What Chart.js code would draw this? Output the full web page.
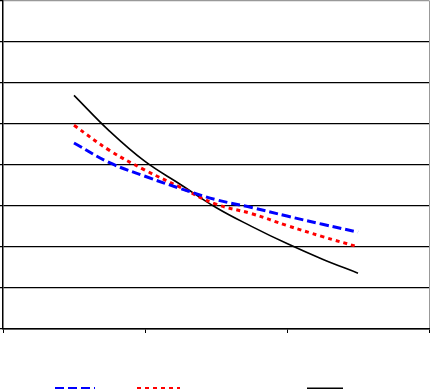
<!DOCTYPE html>
<html>
<head>
<meta charset="utf-8">
<script src="https://cdn.jsdelivr.net/npm/chart.js@4/dist/chart.umd.min.js"></script>
<style>
  html, body { margin: 0; padding: 0; background: #fff; overflow: hidden; }
  #wrap { width: 430px; height: 389px; }
</style>
</head>
<body>
<div id="wrap"><canvas id="lineChart"></canvas></div>
<script>
// x positions (linear axis 0..3, category centres at 0.5 / 1.5 / 2.5)
const xValues = [0.5, 0.75, 1.0, 1.25, 1.5, 1.75, 2.0, 2.25, 2.5];
// series values
const blueSeries  = [4.53, 4.05, 3.72, 3.42, 3.15, 2.96, 2.75, 2.55, 2.36];
const redSeries   = [4.96, 4.35, 3.87, 3.45, 3.04, 2.81, 2.52, 2.25, 2.00];
const blackSeries = [5.69, 4.82, 4.08, 3.52, 2.96, 2.50, 2.08, 1.70, 1.36];
// axis ranges
const yTicks = [0, 1, 2, 3, 4, 5, 6, 7, 8];
const xTicks = [0, 1, 2, 3];

function toPoints(vals) {
    return vals.map((v, i) => ({ x: xValues[i], y: v }));
}

// legend line samples along the bottom (only their tops show)
const legendPlugin = {
    id: 'bottomLegend',
    afterDraw(chart) {
        const ctx = chart.ctx;
        const items = [
            { x1: 55, x2: 95, color: '#0000ff', dash: [9, 4], width: 3 },
            { x1: 137, x2: 180, color: '#ff0000', dash: [4, 4], width: 3 },
            { x1: 307, x2: 343, color: '#000000', dash: [], width: 2 }
        ];
        ctx.save();
        items.forEach(it => {
            ctx.beginPath();
            ctx.strokeStyle = it.color;
            ctx.lineWidth = it.width;
            ctx.setLineDash(it.dash);
            ctx.moveTo(it.x1, 388.5);
            ctx.lineTo(it.x2, 388.5);
            ctx.stroke();
        });
        ctx.restore();
    }
};

const chartCtx = document.getElementById('lineChart').getContext('2d');
const lineChart = new Chart(chartCtx, {
    type: 'line',
    data: {
        datasets: [
            {
                label: 'Series 1',
                data: toPoints(blueSeries),
                borderColor: '#0000ff',
                borderWidth: 3,
                borderDash: [9, 4],
                pointRadius: 0,
                tension: 0.4,
                fill: false
            },
            {
                label: 'Series 2',
                data: toPoints(redSeries),
                borderColor: '#ff0000',
                borderWidth: 3,
                borderDash: [4, 4],
                pointRadius: 0,
                tension: 0.4,
                fill: false
            },
            {
                label: 'Series 3',
                data: toPoints(blackSeries),
                borderColor: '#000000',
                borderWidth: 1.6,
                pointRadius: 0,
                tension: 0.4,
                fill: false
            }
        ]
    },
    options: {
        responsive: true,
        maintainAspectRatio: false,
        animation: false,
        layout: { padding: { top: 0.5, right: 1, bottom: 56, left: 0 } },
        plugins: {
            legend: { display: false },
            tooltip: { enabled: false }
        },
        scales: {
            x: {
                type: 'linear',
                min: xTicks[0],
                max: xTicks[xTicks.length - 1],
                afterBuildTicks: s => { s.ticks = xTicks.map(v => ({ value: v })); },
                afterFit: s => { s.height = 4; },
                ticks: { display: false },
                grid: {
                    drawOnChartArea: true,
                    color: c => c.index === xTicks.length - 1 ? '#999999' : 'rgba(0,0,0,0)',
                    tickColor: '#000',
                    tickLength: 4,
                    lineWidth: 1
                },
                border: { color: '#000', width: 1.5 }
            },
            y: {
                min: yTicks[0],
                max: yTicks[yTicks.length - 1],
                afterBuildTicks: s => { s.ticks = yTicks.map(v => ({ value: v })); },
                afterFit: s => { s.width = 3; },
                ticks: { display: false },
                grid: {
                    color: c => c.index === yTicks.length - 1 ? '#999999' : '#000',
                    tickColor: '#000',
                    tickLength: 3,
                    lineWidth: 1.2
                },
                border: { color: '#000', width: 1.5 }
            }
        }
    },
    plugins: [legendPlugin]
});
</script>
</body>
</html>
